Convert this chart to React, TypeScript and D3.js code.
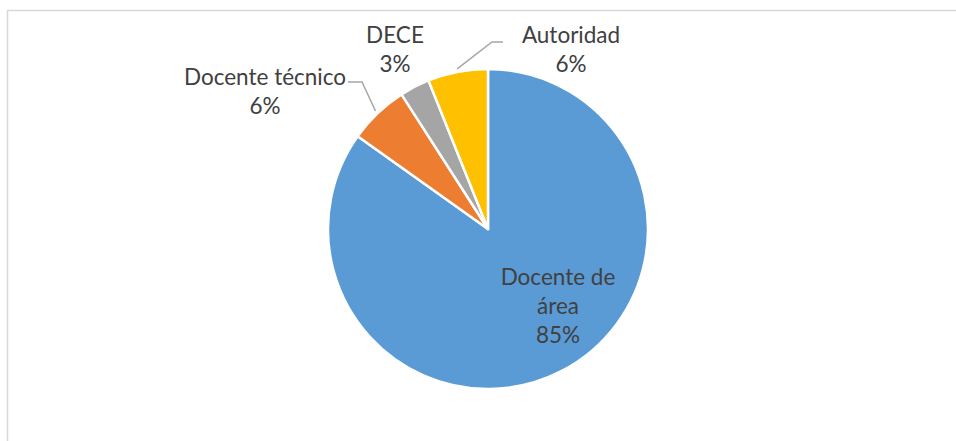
import React from "react";
import * as d3 from "d3";

const categories = ["Docente de área", "Docente técnico", "DECE", "Autoridad"];
const values = [28, 2, 1, 2];
const colors = ["#5B9BD5", "#ED7D31", "#A5A5A5", "#FFC000"];

const W = 956;
const H = 441;
const cx = 488;
const cy = 229;
const R = 160;
const FONT = "Lato, 'Open Sans', sans-serif";
const FS = 22.5;
const TXT = "#404040";

// label layout: [name lines..., pct], anchor center x, first baseline y, line gap, leader elbow/end (null if inside)
const labelLayout: { x: number; y: number; lines: string[]; elbow?: [number, number]; end?: [number, number] }[] = [
  { x: 558, y: 285, lines: ["Docente de", "área"] },
  { x: 265, y: 85, lines: ["Docente técnico"], elbow: [362, 82], end: [348, 82] },
  { x: 395, y: 43, lines: ["DECE"] },
  { x: 571, y: 43, lines: ["Autoridad"], elbow: [492, 42], end: [503, 42] },
];

export default function App() {
  const total = d3.sum(values);
  const pie = d3.pie<number>().sort(null).value((d) => d);
  const arcs = pie(values);
  const arc = d3.arc<d3.PieArcDatum<number>>().innerRadius(0).outerRadius(R);
  const outer = d3.arc<d3.PieArcDatum<number>>().innerRadius(R + 3).outerRadius(R + 3);
  const lh = 29;

  return (
    <svg
      width={W}
      height={H}
      style={{ position: "fixed", left: 0, top: 0, background: "#fff" }}
    >
      <rect x={7.5} y={10.5} width={W + 10} height={H + 10} fill="#fff" stroke="#D9D9D9" strokeWidth={1.5} />
      <g transform={`translate(${cx},${cy})`}>
        {arcs.map((a, i) => (
          <path key={i} d={arc(a) || ""} fill={colors[i]} stroke="#fff" strokeWidth={2.5} strokeLinejoin="round" />
        ))}
      </g>
      {arcs.map((a, i) => {
        const L = labelLayout[i];
        if (!L.elbow || !L.end) return null;
        const [sx, sy] = outer.centroid(a);
        return (
          <polyline
            key={"l" + i}
            points={`${cx + sx},${cy + sy} ${L.elbow[0]},${L.elbow[1]} ${L.end[0]},${L.end[1]}`}
            fill="none"
            stroke="#A6A6A6"
            strokeWidth={1.5}
          />
        );
      })}
      {arcs.map((a, i) => {
        const L = labelLayout[i];
        const pct = `${Math.round((values[i] / total) * 100)}%`;
        const lines = [...L.lines, pct];
        return (
          <text
            key={"t" + i}
            x={L.x}
            y={L.y}
            textAnchor="middle"
            fontFamily={FONT}
            fontSize={FS}
            fill={TXT}
          >
            {lines.map((s, j) => (
              <tspan key={j} x={L.x} y={L.y + j * lh}>
                {s}
              </tspan>
            ))}
          </text>
        );
      })}
    </svg>
  );
}
